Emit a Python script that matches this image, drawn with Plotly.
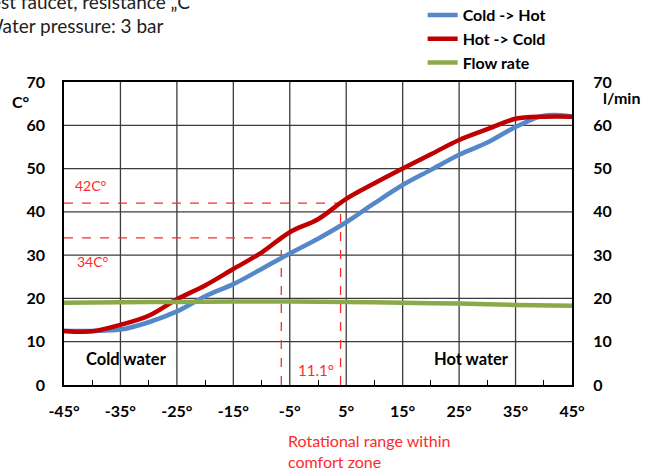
import plotly.graph_objects as go

# ---- data ----
angle = [-45, -40, -35, -30, -25, -20, -15, -10, -5, 0, 5, 10, 15, 20, 25, 30, 35, 40, 45]
cold_to_hot = [12.5, 12.5, 12.8, 14.5, 17.0, 20.5, 23.3, 26.8, 30.4, 33.8, 37.6, 42.0, 46.2, 49.7, 53.2, 56.0, 59.6, 62.2, 62.0]
hot_to_cold = [12.5, 12.4, 13.9, 16.0, 19.8, 23.0, 26.8, 30.6, 35.3, 38.3, 43.0, 46.6, 50.0, 53.3, 56.6, 59.1, 61.5, 62.0, 62.0]
flow_angle = [-45, -35, -25, -15, -5, 5, 15, 25, 35, 45]
flow_rate = [19.0, 19.1, 19.2, 19.3, 19.3, 19.2, 19.0, 18.8, 18.5, 18.3]

comfort_temps = [34, 42]
comfort_angles = [-6.5, 4.0]
comfort_labels = ["34C°", "42C°"]
comfort_range_label = "11.1°"

x_ticks = [-45, -35, -25, -15, -5, 5, 15, 25, 35, 45]
x_ticktext = [f"{v}°" for v in x_ticks]
y_ticks = [0, 10, 20, 30, 40, 50, 60, 70]

FONT = "Lato"
RED = "#FF2A2A"
GRID = "#3C3C3C"

fig = go.Figure()

# grid lines drawn on the data axes
for xv in x_ticks[1:-1]:
    fig.add_shape(type="line", xref="x", yref="y", x0=xv, x1=xv, y0=y_ticks[0], y1=y_ticks[-1],
                  line=dict(color=GRID, width=1.3), layer="below")
for yv in y_ticks[1:-1]:
    fig.add_shape(type="line", xref="x", yref="y", x0=x_ticks[0], x1=x_ticks[-1], y0=yv, y1=yv,
                  line=dict(color=GRID, width=1.3), layer="below")

# comfort-zone dashed guides
for t, a in zip(comfort_temps, comfort_angles):
    fig.add_trace(go.Scatter(x=[-45, a], y=[t, t], mode="lines", showlegend=False, hoverinfo="skip",
                             line=dict(color=RED, width=1.3, dash="dash")))
    fig.add_trace(go.Scatter(x=[a, a], y=[0, t], mode="lines", showlegend=False, hoverinfo="skip",
                             line=dict(color=RED, width=1.3, dash="dash")))

fig.add_trace(go.Scatter(x=flow_angle, y=flow_rate, name="Flow rate", mode="lines",
                         line=dict(color="#8AAA4A", width=4.5, shape="spline"), yaxis="y2", legendrank=3))
fig.add_trace(go.Scatter(x=angle, y=cold_to_hot, name="Cold -> Hot", mode="lines",
                         line=dict(color="#5588C8", width=4.5, shape="spline"), legendrank=1))
fig.add_trace(go.Scatter(x=angle, y=hot_to_cold, name="Hot -> Cold", mode="lines",
                         line=dict(color="#C00000", width=4.5, shape="spline"), legendrank=2))

tickfont = dict(family=FONT, size=16, color="black", weight="bold")

fig.update_layout(
    width=661, height=475,
    margin=dict(l=64, r=89, t=82, b=90, autoexpand=False),
    paper_bgcolor="white", plot_bgcolor="white",
    font=dict(family=FONT, color="black"),
    xaxis=dict(range=[-45, 45], tickmode="array", tickvals=x_ticks, ticktext=x_ticktext, tickfont=tickfont,
               showgrid=False,
               showline=True, linecolor="black", linewidth=1.5, mirror=True,
               ticks="outside", ticklen=11, tickcolor="rgba(0,0,0,0)", zeroline=False,
               minor=dict(tick0=-40, dtick=10, ticks="inside", ticklen=5, tickcolor="black", tickwidth=1)),
    yaxis=dict(range=[0, 70], tickmode="array", tickvals=y_ticks, tickfont=tickfont,
               showgrid=False,
               showline=True, linecolor="black", linewidth=1.5, mirror=True,
               ticks="outside", ticklen=14, tickcolor="rgba(0,0,0,0)", zeroline=False),
    yaxis2=dict(range=[0, 70], tickmode="array", tickvals=y_ticks, tickfont=tickfont, overlaying="y", side="right",
                showgrid=False, showline=False, ticks="outside", ticklen=17, tickcolor="rgba(0,0,0,0)",
                zeroline=False),
    legend=dict(x=0.706, y=1.277, xanchor="left", yanchor="top", bgcolor="rgba(0,0,0,0)",
                font=dict(family=FONT, size=16, color="black", weight="bold"),
                tracegroupgap=0, itemwidth=30),
    showlegend=True,
)

ann = [
    dict(text="Test faucet, resistance „C“", x=-0.166, y=1.266, xanchor="left", yanchor="middle",
         font=dict(family=FONT, size=19, color="#222222")),
    dict(text="Water pressure: 3 bar", x=-0.161, y=1.1865, xanchor="left", yanchor="middle",
         font=dict(family=FONT, size=19, color="#222222")),
    dict(text="C°", x=-0.085, y=0.934, xanchor="center", yanchor="middle",
         font=dict(family=FONT, size=16, color="black", weight="bold")),
    dict(text="l/min", x=1.098, y=0.95, xanchor="center", yanchor="middle",
         font=dict(family=FONT, size=16, color="black", weight="bold")),
    dict(text="Cold water", x=0.039, y=0.086, xanchor="left", yanchor="middle",
         font=dict(family=FONT, size=16.5, color="black", weight="bold")),
    dict(text="Hot water", x=0.724, y=0.086, xanchor="left", yanchor="middle",
         font=dict(family=FONT, size=16.5, color="black", weight="bold")),
    dict(text=comfort_labels[1], x=0.018, y=0.657, xanchor="left", yanchor="middle",
         font=dict(family=FONT, size=14, color=RED)),
    dict(text=comfort_labels[0], x=0.022, y=0.409, xanchor="left", yanchor="middle",
         font=dict(family=FONT, size=14, color=RED)),
    dict(text=comfort_range_label, x=0.496, y=0.0495, xanchor="center", yanchor="middle",
         font=dict(family=FONT, size=15, color=RED)),
    dict(text="Rotational range within<br>comfort zone", x=0.437, y=-0.145, xanchor="left", yanchor="top",
         align="left", font=dict(family=FONT, size=16, color=RED)),
]
for a in ann:
    a.update(xref="paper", yref="paper", showarrow=False)
    fig.add_annotation(**a)

fig.write_html("out.html", config={"displayModeBar": False},
               post_script="document.body.style.margin='0px';")
